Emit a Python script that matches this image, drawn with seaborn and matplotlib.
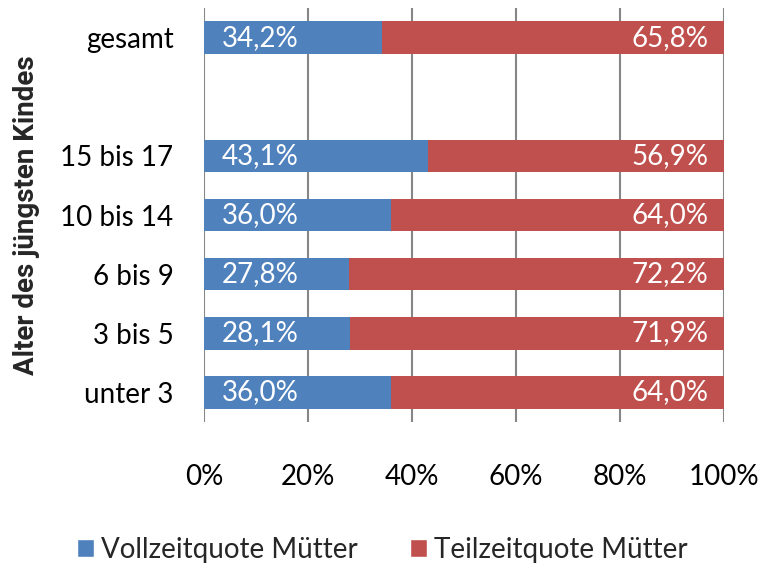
import matplotlib
matplotlib.use("Agg")
import matplotlib.pyplot as plt
import seaborn as sns
import pandas as pd
from matplotlib.patches import Patch

categories = ["gesamt", " ", "15 bis 17", "10 bis 14", "6 bis 9", "3 bis 5", "unter 3"]
data_categories = ["gesamt", "15 bis 17", "10 bis 14", "6 bis 9", "3 bis 5", "unter 3"]
vollzeit = [34.2, 43.1, 36.0, 27.8, 28.1, 36.0]
teilzeit = [65.8, 56.9, 64.0, 72.2, 71.9, 64.0]
xticks = [0, 20, 40, 60, 80, 100]
xtick_labels = ["0%", "20%", "40%", "60%", "80%", "100%"]
series_names = ["Vollzeitquote Mütter", "Teilzeitquote Mütter"]
ylabel = "Alter des jüngsten Kindes"

BLUE = "#4F81BD"
RED = "#C0504D"
GRID = "#868686"

sns.set_theme(style="white")
plt.rcParams["font.family"] = ["Lato", "DejaVu Sans"]

df = pd.DataFrame({"cat": data_categories, "voll": vollzeit, "teil": teilzeit})
df["total"] = df["voll"] + df["teil"]

fig = plt.figure(figsize=(7.65, 5.67), dpi=100)
ax = fig.add_axes([0.2667, 0.2557, 0.6797, 0.7302])

sns.barplot(data=df, y="cat", x="total", order=categories, color=RED,
            saturation=1, width=0.55, ax=ax, orient="h", zorder=2)
sns.barplot(data=df, y="cat", x="voll", order=categories, color=BLUE,
            saturation=1, width=0.55, ax=ax, orient="h", zorder=3)

for p in ax.patches:
    p.set_edgecolor("none")

fs = 20
for i, row in df.iterrows():
    y = categories.index(row["cat"])
    ax.annotate(f"{row['voll']:.1f}%".replace(".", ","), xy=(0, y), xytext=(13, 0),
                textcoords="offset points", ha="left", va="center",
                color="white", fontsize=fs, zorder=5)
    ax.annotate(f"{row['teil']:.1f}%".replace(".", ","), xy=(row["total"], y), xytext=(-11, 0),
                textcoords="offset points", ha="right", va="center",
                color="white", fontsize=fs, zorder=5)

ax.set_xlim(0, 100)
ax.set_ylim(6.5, -0.5)
ax.set_xticks(xticks)
ax.set_xticklabels(xtick_labels, fontsize=fs, color="black")
ax.tick_params(axis="x", length=0, pad=30)
ax.tick_params(axis="y", length=0, pad=22, labelsize=fs, labelcolor="black")
ax.xaxis.grid(True, color=GRID, linewidth=1.5, zorder=0)
ax.yaxis.grid(False)
ax.set_axisbelow(True)
for s in ax.spines.values():
    s.set_visible(False)
ax.set_xlabel("")
ax.set_ylabel(ylabel, fontsize=20, fontweight="bold", family=["Roboto", "DejaVu Sans"])
ax.yaxis.set_label_coords(-0.315, 0.5)

handles = [Patch(facecolor=BLUE, label=series_names[0]),
           Patch(facecolor=RED, label=series_names[1])]
fig.legend(handles=handles, loc="center", bbox_to_anchor=(0.5, 0.03), ncol=2,
           frameon=False, fontsize=fs, handlelength=0.6, handleheight=0.6,
           columnspacing=1.9, handletextpad=0.25)

fig.savefig("out.png", dpi=100)
